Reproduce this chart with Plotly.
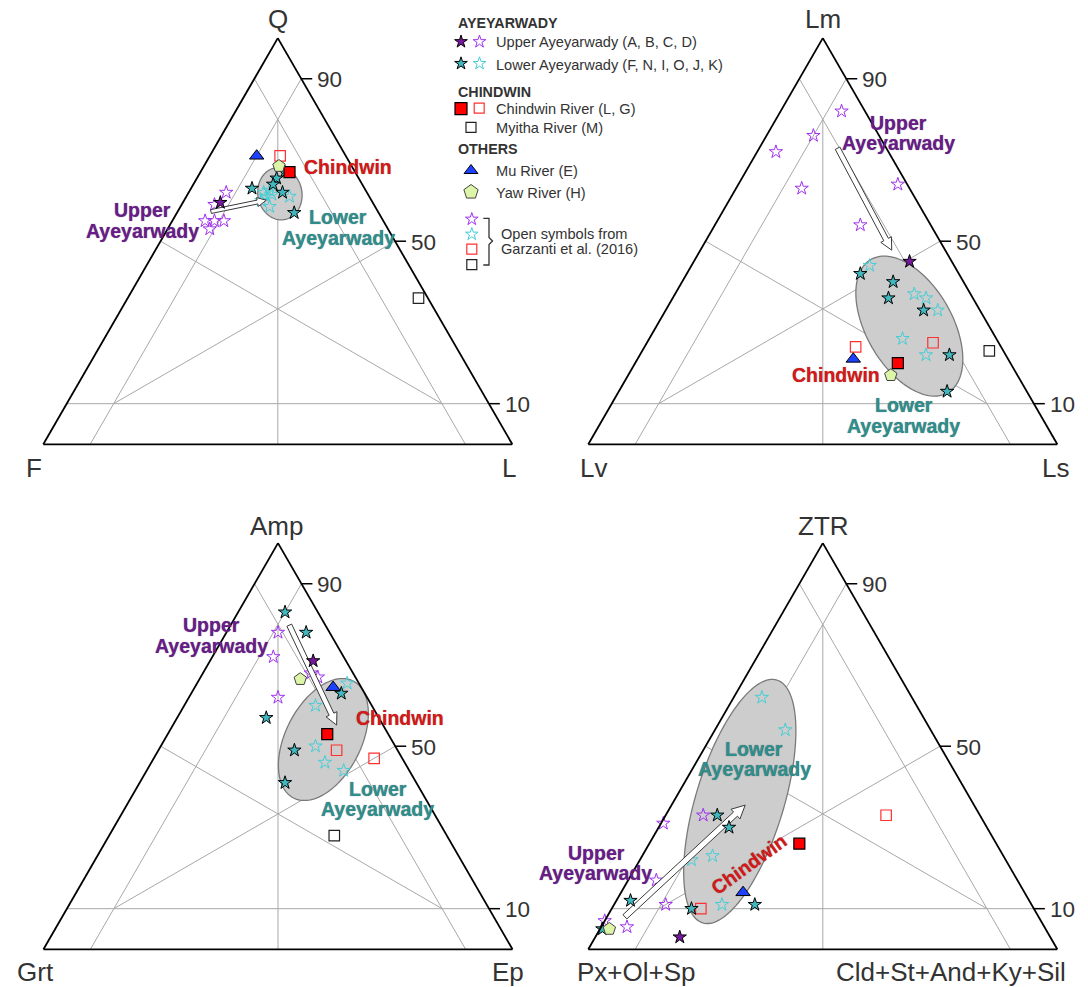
import math
import plotly.graph_objects as go

FIG_W, FIG_H = 1088, 987
SIDE = 469.0                      # triangle side length (px)
SQ3 = math.sqrt(3)
FONT = "Liberation Sans, Arial, sans-serif"
INK = "#333333"

# ---------------- compositions: (top, left, right) in % ----------------
# Q - F - L
qfl_upper_fill = [(59.5, 32.5, 8)]
qfl_upper_open = [(62, 30, 8), (59, 34, 7), (55, 38, 7), (55, 36, 9), (55, 34, 11), (53, 38, 9)]
qfl_lower_fill = [(67, 15, 18), (65.5, 17.5, 17), (64, 19, 17), (63, 24, 13), (62, 18, 20), (57, 18, 25)]
qfl_lower_open = [(62, 22, 16), (62.5, 20.5, 17), (61.5, 20.5, 18), (61, 22, 17), (60, 23.5, 16.5),
                  (58.5, 22.5, 19), (61, 17, 22)]
qfl_chindwin_fill = [(67, 14, 19)]
qfl_chindwin_open = [(71, 14, 15)]
qfl_myitha_open = [(36, 2, 62)]
qfl_mu = [(71, 19, 10)]
qfl_yaw = [(68.5, 15.5, 16)]

# Lm - Lv - Ls
lm_upper_fill = [(45, 9, 46)]
lm_upper_open = [(82, 5, 13), (76, 14, 10), (72, 24, 4), (63, 23, 14), (64, 2, 34), (54, 15, 31)]
lm_lower_fill = [(42, 21, 37), (40, 15, 45), (36, 18, 46), (33, 12, 55), (22, 12, 66), (13, 17, 70)]
lm_lower_open = [(44, 18, 38), (37, 12, 51), (36, 10, 54), (33, 9, 58), (26, 20, 54), (22, 17, 61)]
lm_chindwin_fill = [(20, 24, 56)]
lm_chindwin_open = [(24, 31, 45), (25, 14, 61)]
lm_myitha_open = [(23, 3, 74)]
lm_mu = [(21, 33, 46)]
lm_yaw = [(17, 27, 56)]

# Amp - Grt - Ep
amp_upper_fill = [(71, 7, 22)]
amp_upper_open = [(78, 11, 11), (72, 15, 13), (68, 9, 23), (67, 8, 25), (62, 19, 19)]
amp_lower_fill = [(83, 7, 10), (78, 5, 17), (57, 24, 19), (49, 22, 29), (41, 28, 31), (63, 5, 32)]
amp_lower_open = [(65.5, 2.5, 32), (60, 12, 28), (50, 17, 33), (46, 17, 37), (44, 14, 42)]
amp_chindwin_fill = [(53, 13, 34)]
amp_chindwin_open = [(49, 13, 38), (47, 6, 47)]
amp_myitha_open = [(28, 24, 48)]
amp_mu = [(64.5, 6, 29.5)]
amp_yaw = [(66.5, 12, 21.5)]

# ZTR - Px+Ol+Sp - Cld+St+And+Ky+Sil
ztr_upper_fill = [(3, 79, 18)]
ztr_upper_open = [(33, 59, 8), (31, 68.5, 0.5), (17, 77, 6), (11, 78, 11), (5.5, 89, 5.5), (7, 93, 0)]
ztr_lower_fill = [(33, 56, 11), (30, 55, 15), (12, 85, 3), (10, 73, 17), (11, 59, 30), (5, 94.5, 0.5)]
ztr_lower_open = [(62, 32, 6), (54, 31, 15), (22, 67, 11), (23, 62, 15), (11, 66, 23)]
ztr_chindwin_fill = [(26, 42, 32)]
ztr_chindwin_open = [(10, 71, 19), (33, 20, 47)]
ztr_myitha_open = []
ztr_mu = [(14, 60, 26)]
ztr_yaw = [(5, 93, 2)]

tick_values = [90, 50, 10]

# ---------------- colours & marker styles ----------------
PURPLE_FILL = "#76199E"
PURPLE_OPEN = "#A030F0"
TEAL_FILL = "#40B8BE"
CYAN_OPEN = "#45CDD5"
RED = "#FF0000"
RED_OPEN = "#FF3030"
BLUE = "#1E40FF"
YAW = "#DDF5A8"
TXT_PURPLE = "#6A1B8A"
TXT_TEAL = "#2E8E8E"
TXT_RED = "#D81818"

STYLE = {
    "upper_open": dict(symbol="star-open", size=10, color=PURPLE_OPEN, line=dict(width=1)),
    "lower_open": dict(symbol="star-open", size=10, color=CYAN_OPEN, line=dict(width=1)),
    "chindwin_open": dict(symbol="square-open", size=10.5, color=RED_OPEN, line=dict(width=1.2)),
    "myitha_open": dict(symbol="square-open", size=10.5, color="#222222", line=dict(width=1.2)),
    "lower_fill": dict(symbol="star", size=10, color=TEAL_FILL, line=dict(color="black", width=1)),
    "upper_fill": dict(symbol="star", size=10, color=PURPLE_FILL, line=dict(color="black", width=1)),
    "chindwin_fill": dict(symbol="square", size=11, color=RED, line=dict(color="black", width=1.2)),
    "mu": dict(symbol="triangle-up", size=12.5, color=BLUE, line=dict(color="black", width=1)),
    "yaw": dict(symbol="pentagon", size=13, color=YAW, line=dict(color="#444444", width=1)),
}
OPEN_KEYS = ["upper_open", "lower_open", "chindwin_open", "myitha_open"]
FILL_KEYS = ["lower_fill", "upper_fill", "chindwin_fill", "mu", "yaw"]


def tern_xy(p):
    a, b, c = p
    s = a + b + c
    return c / s + a / s / 2, a / s * SQ3 / 2


def xy_tern(x, y):
    a = y * 2 / SQ3
    c = x - a / 2
    return 100 * a, 100 * (1 - a - c), 100 * c


def field_trace(sub, center, axes, angle):
    cx, cy = tern_xy(center)
    A, B = axes
    th = math.radians(angle)
    pts = []
    for i in range(145):
        t = 2 * math.pi * i / 144
        x = cx + A * math.cos(t) * math.cos(th) - B * math.sin(t) * math.sin(th)
        y = cy + A * math.cos(t) * math.sin(th) + B * math.sin(t) * math.cos(th)
        pts.append(xy_tern(x, y))
    a, b, c = zip(*pts)
    return go.Scatterternary(subplot=sub, a=a, b=b, c=c, mode="lines", fill="toself",
                             fillcolor="#cdcdcd", line=dict(color="#7a7a7a", width=1.3),
                             hoverinfo="skip", showlegend=False)


def arrow_trace(sub, start, end, scale=1.0):
    x0, y0 = tern_xy(start)
    x1, y1 = tern_xy(end)
    L = math.hypot(x1 - x0, y1 - y0)
    ux, uy = (x1 - x0) / L, (y1 - y0) / L
    nx, ny = -uy, ux
    w1, w2, hl = 2.6 / SIDE * scale, 6.0 / SIDE * scale, 12.0 / SIDE * scale
    bx, by = x1 - ux * hl, y1 - uy * hl
    poly = [(x0 + nx * w1, y0 + ny * w1), (bx + nx * w1, by + ny * w1), (bx + nx * w2, by + ny * w2),
            (x1, y1), (bx - nx * w2, by - ny * w2), (bx - nx * w1, by - ny * w1),
            (x0 - nx * w1, y0 - ny * w1), (x0 + nx * w1, y0 + ny * w1)]
    a, b, c = zip(*[xy_tern(x, y) for x, y in poly])
    return go.Scatterternary(subplot=sub, a=a, b=b, c=c, mode="lines", fill="toself",
                             fillcolor="white", line=dict(color="#3a3a3a", width=1),
                             hoverinfo="skip", showlegend=False)


def seg_trace(sub, p, q):
    return go.Scatterternary(subplot=sub, a=[p[0], q[0]], b=[p[1], q[1]], c=[p[2], q[2]],
                             mode="lines", line=dict(color="#a8a8a8", width=1),
                             hoverinfo="skip", showlegend=False)


def label(text, px, py, size, color, bold=False, anchor="center", angle=0, outline=False):
    font = dict(family=FONT, size=size, color=color)
    if outline:
        font["shadow"] = "0px 0px 1px rgba(0,0,0,0.55)"
    return dict(text=f"<b>{text}</b>" if bold else text, x=px / FIG_W, y=1 - py / FIG_H,
                xref="paper", yref="paper", xanchor=anchor, yanchor="middle", showarrow=False,
                textangle=angle, font=font)


panels = [
    dict(sub="ternary", x0=43.3, base=444.3,
         data=dict(upper_fill=qfl_upper_fill, upper_open=qfl_upper_open, lower_fill=qfl_lower_fill,
                   lower_open=qfl_lower_open, chindwin_fill=qfl_chindwin_fill,
                   chindwin_open=qfl_chindwin_open, myitha_open=qfl_myitha_open, mu=qfl_mu, yaw=qfl_yaw),
         field=((61.7, 18.7, 19.6), (0.056, 0.047), 100),
         trend=((57.3, 35.6, 7.1), (60.1, 22.4, 17.5)), trend_scale=0.75,
         vertices=[("Q", 277.7, 19.5, "center"), ("F", 34, 467.5, "center"), ("L", 509, 467.5, "center")],
         labels=[("Upper", 142, 210, TXT_PURPLE), ("Ayeyarwady", 142, 231, TXT_PURPLE),
                 ("Chindwin", 348, 167.5, TXT_RED),
                 ("Lower", 338, 216.5, TXT_TEAL), ("Ayeyarwady", 338, 237.5, TXT_TEAL)]),
    dict(sub="ternary2", x0=588.3, base=444.3,
         data=dict(upper_fill=lm_upper_fill, upper_open=lm_upper_open, lower_fill=lm_lower_fill,
                   lower_open=lm_lower_open, chindwin_fill=lm_chindwin_fill,
                   chindwin_open=lm_chindwin_open, myitha_open=lm_myitha_open, mu=lm_mu, yaw=lm_yaw),
         field=((29.1, 17.0, 53.9), (0.164, 0.0915), 120),
         trend=((72.9, 10.4, 16.7), (47.8, 11.4, 40.8)), trend_scale=1.0,
         vertices=[("Lm", 823, 19.5, "center"), ("Lv", 593, 467.5, "center"), ("Ls", 1055, 467.5, "center")],
         labels=[("Upper", 898, 122.5, TXT_PURPLE), ("Ayeyarwady", 898, 143, TXT_PURPLE),
                 ("Chindwin", 836, 375, TXT_RED),
                 ("Lower", 903.5, 405, TXT_TEAL), ("Ayeyarwady", 903.5, 425.5, TXT_TEAL)]),
    dict(sub="ternary3", x0=43.5, base=949.3,
         data=dict(upper_fill=amp_upper_fill, upper_open=amp_upper_open, lower_fill=amp_lower_fill,
                   lower_open=amp_lower_open, chindwin_fill=amp_chindwin_fill,
                   chindwin_open=amp_chindwin_open, myitha_open=amp_myitha_open, mu=amp_mu, yaw=amp_yaw),
         field=((51.65, 14.5, 33.85), (0.140, 0.0806), 63),
         trend=((79.8, 7.7, 12.5), (55.2, 9.9, 34.9)), trend_scale=1.0,
         vertices=[("Amp", 276, 526, "center"), ("Grt", 35, 972, "center"), ("Ep", 508, 972, "center")],
         labels=[("Upper", 211.5, 625, TXT_PURPLE), ("Ayeyarwady", 211.5, 645.5, TXT_PURPLE),
                 ("Chindwin", 399.5, 718, TXT_RED),
                 ("Lower", 377.5, 789, TXT_TEAL), ("Ayeyarwady", 377.5, 809, TXT_TEAL)]),
    dict(sub="ternary4", x0=588.3, base=949.3,
         data=dict(upper_fill=ztr_upper_fill, upper_open=ztr_upper_open, lower_fill=ztr_lower_fill,
                   lower_open=ztr_lower_open, chindwin_fill=ztr_chindwin_fill,
                   chindwin_open=ztr_chindwin_open, myitha_open=ztr_myitha_open, mu=ztr_mu, yaw=ztr_yaw),
         field=((36.4, 49.5, 14.1), (0.2707, 0.0938), 73),
         trend=((8.0, 88.2, 3.8), (35.5, 48.8, 15.7)), trend_scale=1.1,
         vertices=[("ZTR", 823, 526, "center"), ("Px+Ol+Sp", 575, 972, "left"),
                   ("Cld+St+And+Ky+Sil", 1068, 972, "right")],
         labels=[("Upper", 596, 853, TXT_PURPLE), ("Ayeyarwady", 595, 873, TXT_PURPLE),
                 ("Lower", 754, 748.5, TXT_TEAL), ("Ayeyarwady", 754, 768.5, TXT_TEAL)],
         rotated=("Chindwin", 749, 864, TXT_RED, -36)),
]

fig = go.Figure()
annotations = []
layout_ternaries = {}
tick_x, tick_y = [], []

for pnl in panels:
    sub = pnl["sub"]
    # reference lines: the three 10 % lines and three medians
    for p, q in [((10, 90, 0), (10, 0, 90)), ((90, 10, 0), (0, 10, 90)), ((90, 0, 10), (0, 90, 10)),
                 ((50, 50, 0), (10, 10, 80)), ((0, 50, 50), (80, 10, 10)), ((50, 0, 50), (10, 80, 10))]:
        fig.add_trace(seg_trace(sub, p, q))
    center, axes, ang = pnl["field"]
    fig.add_trace(field_trace(sub, center, axes, ang))
    for key in OPEN_KEYS:
        pts = pnl["data"][key]
        if pts:
            a, b, c = zip(*pts)
            fig.add_trace(go.Scatterternary(subplot=sub, a=a, b=b, c=c, mode="markers",
                                            marker=STYLE[key], cliponaxis=False,
                                            hoverinfo="skip", showlegend=False))
    fig.add_trace(arrow_trace(sub, *pnl["trend"], scale=pnl["trend_scale"]))
    for key in FILL_KEYS:
        pts = pnl["data"][key]
        if pts:
            a, b, c = zip(*pts)
            fig.add_trace(go.Scatterternary(subplot=sub, a=a, b=b, c=c, mode="markers",
                                            marker=STYLE[key], cliponaxis=False,
                                            hoverinfo="skip", showlegend=False))

    # subplot domain so the triangle lands at x0/base with the given side
    cx = pnl["x0"] + SIDE / 2
    cy = pnl["base"] - SIDE * SQ3 / 4
    ax = dict(showgrid=False, showticklabels=False, ticks="", linecolor="black", linewidth=1.8,
              title=dict(text=""))
    layout_ternaries[sub] = dict(
        sum=100, bgcolor="rgba(0,0,0,0)",
        domain=dict(x=[(cx - SIDE / 2) / FIG_W, (cx + SIDE / 2) / FIG_W],
                    y=[1 - (cy + 225) / FIG_H, 1 - (cy - 225) / FIG_H]),
        aaxis=ax, baxis=ax, caxis=ax)

    # tick marks and labels on the right edge (values of the top component)
    for v in tick_values:
        ex = pnl["x0"] + SIDE * (1 - v / 200)
        ey = pnl["base"] - SIDE * SQ3 / 2 * v / 100
        tick_x += [ex, ex + 11, None]
        tick_y += [ey, ey, None]
        annotations.append(label(str(v), ex + 14, ey + 1, 22.5, INK, anchor="left"))

    for text, px, py, anc in pnl["vertices"]:
        annotations.append(label(text, px, py, 26, INK, anchor=anc))
    for text, px, py, col in pnl["labels"]:
        annotations.append(label(text, px, py, 19.5, col, bold=True, outline=True))
    if "rotated" in pnl:
        text, px, py, col, ang = pnl["rotated"]
        annotations.append(label(text, px, py, 19.5, col, bold=True, angle=ang, outline=True))

# tick dashes on a pixel-space overlay
fig.add_trace(go.Scatter(x=tick_x, y=tick_y, mode="lines", line=dict(color="black", width=1.5),
                         hoverinfo="skip", showlegend=False))

# ---------------- legend block ----------------
legend_keys = [
    ("upper_fill", 461, 41.7, 9.5), ("upper_open", 479.5, 41.7, 9.5),
    ("lower_fill", 461, 63.5, 9.5), ("lower_open", 479.5, 63.5, 9.5),
    ("chindwin_fill", 461, 108.7, 12), ("chindwin_open", 479.2, 108.2, 10),
    ("myitha_open", 471, 127.3, 10),
    ("mu", 471, 170.5, 12), ("yaw", 471, 192, 15),
    ("upper_open", 471.8, 219.2, 9.5), ("lower_open", 471.8, 234.2, 9.5),
    ("chindwin_open", 471.8, 249.2, 10), ("myitha_open", 471.8, 264.7, 10),
]
for key, lx, ly, sz in legend_keys:
    mk = dict(STYLE[key])
    mk["size"] = sz
    fig.add_trace(go.Scatter(x=[lx], y=[ly], mode="markers", marker=mk, cliponaxis=False,
                             hoverinfo="skip", showlegend=False))

# bracket grouping the open symbols
fig.add_trace(go.Scatter(x=[483.3, 489, 489, 492.5, 489, 489, 483.3],
                         y=[218.3, 218.3, 237.5, 241, 244.5, 265, 265],
                         mode="lines", line=dict(color=INK, width=1.3),
                         hoverinfo="skip", showlegend=False))

legend_head = [("AYEYARWADY", 23.3), ("CHINDWIN", 91.7), ("OTHERS", 148.5)]
for text, ly in legend_head:
    annotations.append(label(text, 456, ly, 14.3, INK, bold=True, anchor="left"))
legend_rows = [
    ("Upper Ayeyarwady (A, B, C, D)", 494, 41.7), ("Lower Ayeyarwady (F, N, I, O, J, K)", 494, 65),
    ("Chindwin River (L, G)", 494, 109.5), ("Myitha River (M)", 494, 128),
    ("Mu River (E)", 494, 171), ("Yaw River (H)", 494, 193),
    ("Open symbols from", 498.7, 234), ("Garzanti et al. (2016)", 498.7, 249),
]
for text, lx, ly in legend_rows:
    annotations.append(label(text, lx, ly, 14.6, INK, anchor="left"))

fig.update_layout(
    width=FIG_W, height=FIG_H, margin=dict(l=0, r=0, t=0, b=0),
    paper_bgcolor="white", plot_bgcolor="rgba(0,0,0,0)", showlegend=False,
    xaxis=dict(range=[0, FIG_W], domain=[0, 1], visible=False, fixedrange=True),
    yaxis=dict(range=[FIG_H, 0], domain=[0, 1], visible=False, fixedrange=True),
    annotations=annotations,
    **layout_ternaries,
)

fig.write_html("out.html")
